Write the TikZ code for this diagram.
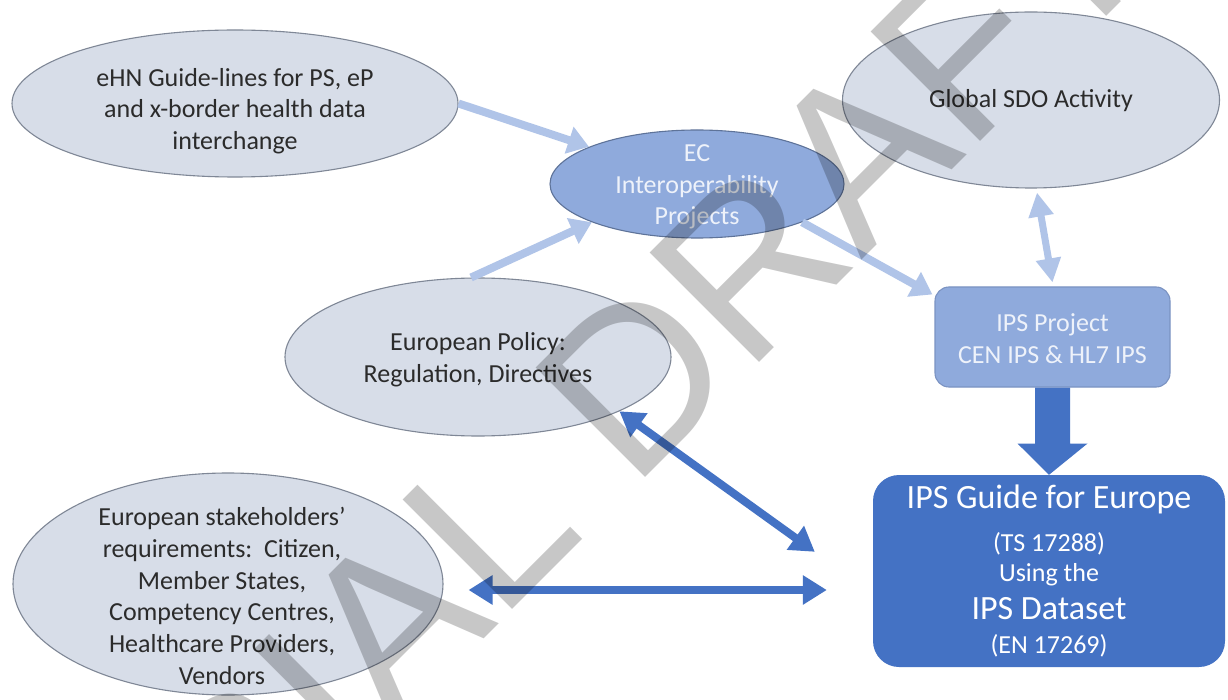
\documentclass[tikz,border=0pt]{standalone}
\usepackage{fontspec}
\setmainfont{Carlito}
\newfontfamily\wmfont{Liberation Sans}
\usetikzlibrary{arrows.meta,calc,shapes.geometric}
\definecolor{ellfill}{HTML}{D7DDE8}
\definecolor{ellborder}{HTML}{7F8796}
\definecolor{ecfill}{HTML}{8FAADC}
\definecolor{ecborder}{HTML}{5E7399}
\definecolor{projborder}{HTML}{7B93C2}
\definecolor{guidefill}{HTML}{4472C4}
\definecolor{lightarr}{HTML}{B0C4E8}
\definecolor{darkarr}{HTML}{4472C4}
\definecolor{darktext}{HTML}{2B2B2B}
\definecolor{palewhite}{HTML}{EEF2FA}
\tikzset{
  lightell/.style={ellipse, draw=ellborder, fill=ellfill, line width=1.1pt, inner sep=0pt},
  blueell/.style={ellipse, draw=ecborder, fill=ecfill, line width=1.1pt, inner sep=0pt},
  body/.style={font=\fontsize{26}{31.7}\selectfont, text=darktext, align=center, inner sep=0pt},
  paletext/.style={body, text=palewhite},
  guidetext/.style={font=\fontsize{26}{31.7}\selectfont, text=white, anchor=base, inner sep=0pt},
  guidebig/.style={guidetext, font=\fontsize{34}{40}\selectfont},
  lightarrow/.style={draw=lightarr, line width=8pt, -{Triangle[length=21pt,width=27pt]}},
  lightboth/.style={draw=lightarr, line width=7pt, {Triangle[length=24pt,width=24pt]}-{Triangle[length=24pt,width=24pt]}},
  darkboth/.style={draw=darkarr, line width=8pt, {Triangle[length=24pt,width=28pt]}-{Triangle[length=24pt,width=28pt]}},
  wm/.style={font=\wmfont\fontsize{225}{225}\selectfont, text=black, text opacity=0.22, rotate=45, inner sep=0pt}
}
\begin{document}
\begin{tikzpicture}[x=1pt,y=-1pt]
\fill[white] (0,0) rectangle (1228,700);
\useasboundingbox (0,0) rectangle (1228,700);

% ellipses
\node[lightell, minimum width=446pt, minimum height=147pt] (ehn) at (235,103.5) {};
\node[body] (ehn-t) at (235,111) {eHN Guide-lines for PS, eP\\and x-border health data\\interchange};

\node[blueell, minimum width=294pt, minimum height=108pt] (ec) at (697,184) {};
\node[paletext] (ec-t) at (697,187) {EC\\Interoperability\\Projects};

\node[lightell, minimum width=377pt, minimum height=176pt] (sdo) at (1031,100) {};
\node[body] (sdo-t) at (1031,101) {Global SDO Activity};

\node[lightell, minimum width=386pt, minimum height=158pt] (pol) at (478,357) {};
\node[body] (pol-t) at (478,360) {European Policy:\\Regulation, Directives};

\node[lightell, minimum width=430pt, minimum height=222pt] (stk) at (228,584) {};
\node[body] (stk-t) at (222,596) {European stakeholders’\\requirements:\ \ Citizen,\\Member States,\\Competency Centres,\\Healthcare Providers,\\Vendors};

% boxes
\node[draw=projborder, fill=ecfill, line width=1.1pt, rounded corners=14pt, minimum width=235pt, minimum height=100pt, inner sep=0pt] (proj) at (1052.5,337) {};
\node[paletext] (proj-t) at (1052.5,339) {IPS Project\\CEN IPS \& HL7 IPS};

\node[fill=guidefill, rounded corners=26pt, minimum width=352pt, minimum height=192pt, inner sep=0pt] (guide) at (1049,571) {};
\node[guidebig] (g1) at (1049,508) {IPS Guide for Europe};
\node[guidetext] (g2) at (1049,551) {(TS 17288)};
\node[guidetext] (g3) at (1049,581) {Using the};
\node[guidebig] (g4) at (1049,619) {IPS Dataset};
\node[guidetext] (g5) at (1049,653) {(EN 17269)};

% block arrow
\fill[darkarr] ($(proj.south)+(-17.5,0)$) -- ($(proj.south)+(-17.5,56)$) -- ($(proj.south)+(-35,56)$)
  -- (guide.north) -- ($(proj.south)+(35,56)$) -- ($(proj.south)+(17.5,56)$) -- ($(proj.south)+(17.5,0)$) -- cycle;

% connectors
\draw[lightarrow] (ehn.east) -- (ec.161);
\draw[lightarrow] (pol.95) -- (ec.200);
\draw[lightarrow] (ec.-20) -- ($(proj.north west)+(-2,8)$);
\draw[lightboth] ($(sdo.south)+(6,4)$) -- ($(proj.north)+(0,-4)$);
\draw[darkboth] (pol.-21) -- ($(guide.north west)+(-58,77)$);
\draw[darkboth] ($(stk.east)+(25,6)$) -- ($(guide.west)+(-46,19)$);

% watermark
\node[wm] (wm) at (595,418) {TRIAL DRAFT};
\end{tikzpicture}
\end{document}
